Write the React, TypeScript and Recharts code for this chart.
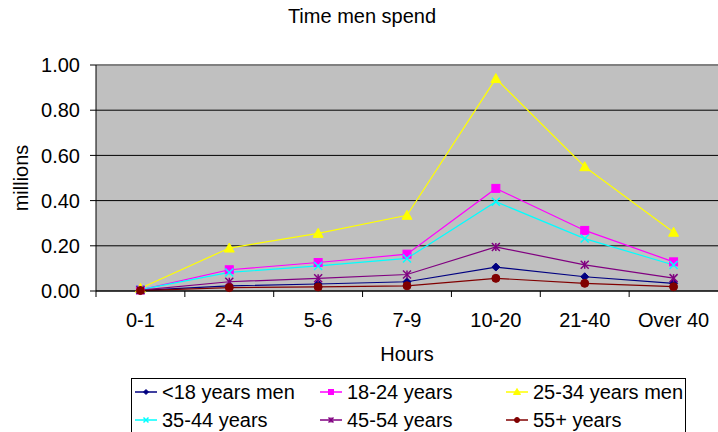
import React from "react"
import {
  LineChart,
  Line,
  XAxis,
  YAxis,
  CartesianGrid,
  ReferenceLine,
} from "recharts"

const hours = ["0-1", "2-4", "5-6", "7-9", "10-20", "21-40", "Over 40"]

const under18 = [0.003, 0.023, 0.031, 0.041, 0.106, 0.063, 0.034]
const age18to24 = [0.005, 0.094, 0.126, 0.163, 0.454, 0.268, 0.129]
const age25to34 = [0.012, 0.19, 0.255, 0.335, 0.94, 0.55, 0.26]
const age35to44 = [0.006, 0.082, 0.111, 0.144, 0.395, 0.232, 0.115]
const age45to54 = [0.004, 0.041, 0.056, 0.073, 0.195, 0.116, 0.057]
const age55plus = [0.002, 0.015, 0.018, 0.023, 0.056, 0.034, 0.019]

const yTicks = [0, 0.2, 0.4, 0.6, 0.8, 1.0]

type Shape = "diamond" | "square" | "triangle" | "cross" | "star" | "circle"

const series: { key: string; name: string; values: number[]; color: string; shape: Shape }[] = [
  { key: "u18", name: "<18 years men", values: under18, color: "#000080", shape: "diamond" },
  { key: "a1824", name: "18-24 years", values: age18to24, color: "#FF00FF", shape: "square" },
  { key: "a2534", name: "25-34 years men", values: age25to34, color: "#FFFF00", shape: "triangle" },
  { key: "a3544", name: "35-44 years", values: age35to44, color: "#00FFFF", shape: "cross" },
  { key: "a4554", name: "45-54 years", values: age45to54, color: "#800080", shape: "star" },
  { key: "a55", name: "55+ years", values: age55plus, color: "#800000", shape: "circle" },
]

const data = hours.map((h, i) => {
  const row: Record<string, string | number> = { hour: h }
  series.forEach((s) => (row[s.key] = s.values[i]))
  return row
})

const W = 718
const H = 432
const PLOT_LEFT = 96
const BAND = (W - PLOT_LEFT) / hours.length
const FONT = "'Liberation Sans', Arial, sans-serif"

const Marker = ({ shape, cx, cy, color, r }: { shape: Shape; cx: number; cy: number; color: string; r: number }) => {
  if (cx == null || cy == null) return null
  switch (shape) {
    case "diamond":
      return (
        <polygon
          points={`${cx},${cy - r} ${cx + r},${cy} ${cx},${cy + r} ${cx - r},${cy}`}
          fill={color}
          stroke={color}
        />
      )
    case "square":
      return <rect x={cx - r} y={cy - r} width={2 * r} height={2 * r} fill={color} stroke={color} />
    case "triangle":
      return (
        <polygon
          points={`${cx},${cy - r - 1} ${cx + r + 1},${cy + r} ${cx - r - 1},${cy + r}`}
          fill={color}
          stroke={color}
        />
      )
    case "cross":
      return (
        <g stroke={color} strokeWidth={1.5}>
          <line x1={cx - r} y1={cy - r} x2={cx + r} y2={cy + r} />
          <line x1={cx - r} y1={cy + r} x2={cx + r} y2={cy - r} />
        </g>
      )
    case "star":
      return (
        <g stroke={color} strokeWidth={1.5}>
          <line x1={cx - r} y1={cy - r} x2={cx + r} y2={cy + r} />
          <line x1={cx - r} y1={cy + r} x2={cx + r} y2={cy - r} />
          <line x1={cx} y1={cy - r} x2={cx} y2={cy + r} />
        </g>
      )
    default:
      return <circle cx={cx} cy={cy} r={r} fill={color} stroke={color} />
  }
}

const HourTick = (props: any) => {
  const { x, y, payload } = props
  return (
    <g>
      <line x1={x - BAND / 2} y1={y - 22} x2={x - BAND / 2} y2={y - 16} stroke="#000" />
      <text x={x} y={y} dy="0.71em" textAnchor="middle" fill="#000" fontSize={20} fontFamily={FONT}>
        {payload.value}
      </text>
    </g>
  )
}

const legendCols = [162, 347, 533]
const legendRows = [399, 427]

export default function App() {
  return (
    <div style={{ position: "absolute", left: 0, top: 0, width: W, height: H, overflow: "hidden", background: "#fff" }}>
      <LineChart
        width={W}
        height={H}
        data={data}
        margin={{ top: 65, right: 0, bottom: 81, left: 36 }}
        style={{ fontFamily: FONT }}
      >
        <CartesianGrid fill="#C0C0C0" stroke="#000" vertical={false} />
        <ReferenceLine y={1} stroke="#808080" strokeWidth={2} />
        <XAxis
          dataKey="hour"
          scale="band"
          height={60}
          axisLine={{ stroke: "#000" }}
          tickLine={false}
          tickSize={6}
          tickMargin={16}
          tick={<HourTick />}
          interval={0}
        />
        <YAxis
          width={60}
          domain={[0, 1]}
          ticks={yTicks}
          interval={0}
          tickFormatter={(v: number) => v.toFixed(2)}
          axisLine={{ stroke: "#000" }}
          tickLine={{ stroke: "#000" }}
          tickSize={6}
          tickMargin={10}
          tick={{ fill: "#000", fontSize: 20 }}
        />
        {series.map((s) => (
          <Line
            key={s.key}
            dataKey={s.key}
            name={s.name}
            type="linear"
            stroke={s.color}
            strokeWidth={1.2}
            isAnimationActive={false}
            dot={(p: any) => (
              <Marker key={`${s.key}-${p.index}`} shape={s.shape} cx={p.cx} cy={p.cy} color={s.color} r={4} />
            )}
          />
        ))}
      </LineChart>
      <svg
        width={W}
        height={H}
        style={{ position: "absolute", left: 0, top: 0, pointerEvents: "none", fontFamily: FONT }}
      >
        <text x={362} y={23} textAnchor="middle" fontSize={20} fill="#000">
          Time men spend
        </text>
        <text x={28} y={178} textAnchor="middle" fontSize={20} fill="#000" transform="rotate(-90, 28, 178)">
          millions
        </text>
        <text x={407} y={361} textAnchor="middle" fontSize={20} fill="#000">
          Hours
        </text>
        <rect x={131.5} y={378.5} width={554} height={70} fill="#fff" stroke="#000" />
        {series.map((s, i) => {
          const tx = legendCols[i % 3]
          const ty = legendRows[Math.floor(i / 3)]
          const cy = ty - 7
          return (
            <g key={s.key}>
              <line x1={tx - 27} y1={cy} x2={tx - 5} y2={cy} stroke={s.color} strokeWidth={1.5} />
              <Marker shape={s.shape} cx={tx - 16} cy={cy} color={s.color} r={2.5} />
              <text x={tx} y={ty} fontSize={20} fill="#000">
                {s.name}
              </text>
            </g>
          )
        })}
      </svg>
    </div>
  )
}
